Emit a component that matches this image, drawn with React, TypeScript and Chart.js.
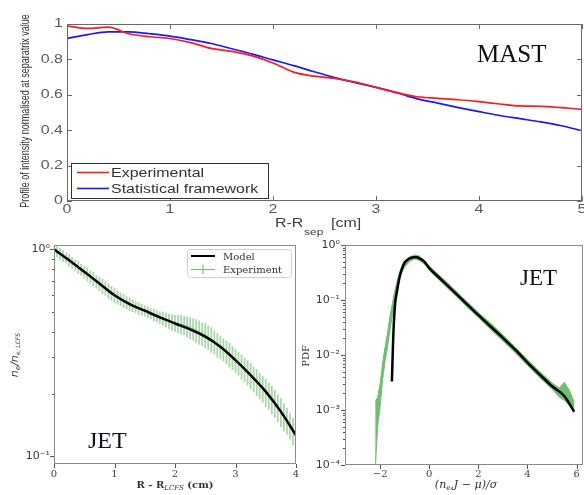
import React, { useEffect, useRef } from "react";
import { Chart, registerables } from "chart.js";
Chart.register(...registerables);

// ---------------- MAST profile (top panel) ----------------
const mastR = [0, 0.2, 0.4, 0.6, 0.8, 1.0, 1.2, 1.4, 1.6, 1.8, 2.0, 2.2, 2.4, 2.6, 2.8, 3.0, 3.2, 3.4, 3.6, 3.8, 4.0, 4.2, 4.4, 4.6, 4.8, 5.0];
const mastExperimental = [0.99, 0.975, 0.982, 0.945, 0.928, 0.918, 0.895, 0.862, 0.845, 0.82, 0.78, 0.728, 0.705, 0.693, 0.672, 0.642, 0.612, 0.589, 0.58, 0.572, 0.561, 0.548, 0.537, 0.535, 0.527, 0.518];
const mastStatistical = [0.919, 0.94, 0.955, 0.955, 0.945, 0.932, 0.912, 0.89, 0.86, 0.83, 0.797, 0.765, 0.73, 0.697, 0.668, 0.642, 0.612, 0.577, 0.553, 0.528, 0.505, 0.483, 0.465, 0.447, 0.425, 0.397];
const mastXTicks = [0, 1, 2, 3, 4, 5];
const mastYTicks = [0, 0.2, 0.4, 0.6, 0.8, 1];

// ---------------- JET profile (bottom-left panel) ----------------
const jetModelR = [0, 0.25, 0.5, 0.75, 1, 1.25, 1.5, 1.75, 2, 2.25, 2.5, 2.75, 3, 3.25, 3.5, 3.75, 4];
const jetModelN = [1.0, 0.887, 0.78, 0.684, 0.6, 0.544, 0.505, 0.469, 0.438, 0.41, 0.378, 0.338, 0.291, 0.246, 0.205, 0.164, 0.126];
const jetExpR = [
  0, 0.05, 0.1, 0.15, 0.2, 0.25, 0.3, 0.35, 0.4, 0.45,
  0.5, 0.55, 0.6, 0.65, 0.7, 0.75, 0.8, 0.85, 0.9, 0.95,
  1.0, 1.05, 1.1, 1.15, 1.2, 1.25, 1.3, 1.35, 1.4, 1.45,
  1.5, 1.55, 1.6, 1.65, 1.7, 1.75, 1.8, 1.85, 1.9, 1.95,
  2.0, 2.05, 2.1, 2.15, 2.2, 2.25, 2.3, 2.35, 2.4, 2.45,
  2.5, 2.55, 2.6, 2.65, 2.7, 2.75, 2.8, 2.85, 2.9, 2.95,
  3.0, 3.05, 3.1, 3.15, 3.2, 3.25, 3.3, 3.35, 3.4, 3.45,
  3.5, 3.55, 3.6, 3.65, 3.7, 3.75, 3.8, 3.85, 3.9, 3.95, 4.0,
];
const jetExpN = [
  1.0, 0.975, 0.952, 0.93, 0.908, 0.885, 0.862, 0.84, 0.82, 0.8,
  0.778, 0.758, 0.738, 0.72, 0.7, 0.683, 0.665, 0.648, 0.63, 0.615,
  0.6, 0.588, 0.576, 0.565, 0.554, 0.544, 0.535, 0.527, 0.519, 0.512,
  0.505, 0.497, 0.49, 0.483, 0.476, 0.469, 0.463, 0.457, 0.45, 0.444,
  0.44, 0.437, 0.435, 0.43, 0.425, 0.419, 0.413, 0.406, 0.399, 0.392,
  0.385, 0.377, 0.368, 0.357, 0.347, 0.338, 0.329, 0.32, 0.31, 0.3,
  0.291, 0.282, 0.273, 0.264, 0.255, 0.246, 0.237, 0.229, 0.221, 0.213,
  0.205, 0.197, 0.189, 0.181, 0.172, 0.164, 0.156, 0.149, 0.141, 0.133, 0.126,
];
const jetExpErr = [
  0.07, 0.06, 0.07, 0.065, 0.06, 0.07, 0.065, 0.06, 0.07, 0.065,
  0.07, 0.075, 0.07, 0.08, 0.075, 0.08, 0.085, 0.08, 0.085, 0.08,
  0.085, 0.08, 0.075, 0.08, 0.07, 0.075, 0.07, 0.065, 0.07, 0.065,
  0.06, 0.065, 0.06, 0.07, 0.065, 0.07, 0.075, 0.08, 0.085, 0.09,
  0.095, 0.1, 0.11, 0.105, 0.115, 0.12, 0.125, 0.13, 0.135, 0.13,
  0.14, 0.135, 0.14, 0.13, 0.135, 0.13, 0.125, 0.13, 0.135, 0.13,
  0.135, 0.13, 0.14, 0.135, 0.14, 0.145, 0.14, 0.15, 0.145, 0.15,
  0.155, 0.15, 0.16, 0.155, 0.15, 0.16, 0.155, 0.15, 0.145, 0.15, 0.14,
];
const jetXTicks = [0, 1, 2, 3, 4];
const jetYTicks = [0.1, 1];

// ---------------- JET PDF (bottom-right panel) ----------------
const pdfX = [-2.2, -2.1, -2.0, -1.9, -1.8, -1.7, -1.6, -1.5, -1.4, -1.3, -1.2, -1.1, -1.0, -0.8, -0.6, -0.4, -0.2, 0, 0.5, 1, 1.5, 2, 2.5, 3, 3.5, 4, 4.5, 5, 5.3, 5.5, 5.7, 5.9];
const pdfExpHigh = [0.0014, 0.0017, 0.003, 0.007, 0.014, 0.025, 0.05, 0.087, 0.15, 0.23, 0.33, 0.43, 0.52, 0.6, 0.66, 0.63, 0.52, 0.415, 0.26, 0.16, 0.097, 0.059, 0.038, 0.023, 0.014, 0.0082, 0.005, 0.0031, 0.0025, 0.0032, 0.0023, 0.0014];
const pdfExpLow = [0.00008, 0.0005, 0.00115, 0.0035, 0.0076, 0.014, 0.028, 0.053, 0.093, 0.15, 0.25, 0.33, 0.4, 0.5, 0.56, 0.52, 0.45, 0.35, 0.21, 0.128, 0.078, 0.048, 0.029, 0.018, 0.011, 0.0065, 0.0039, 0.0024, 0.0017, 0.0015, 0.0012, 0.0009];
const pdfModelX = [-1.52, -1.47, -1.4, -1.3, -1.2, -1.1, -1.0, -0.9, -0.8, -0.6, -0.5, -0.4, -0.2, 0, 0.5, 1, 1.5, 2, 2.5, 3, 3.5, 4, 4.5, 5, 5.5, 5.9];
const pdfModel = [0.0033, 0.019, 0.076, 0.155, 0.27, 0.38, 0.48, 0.53, 0.57, 0.6, 0.6, 0.57, 0.5, 0.38, 0.233, 0.142, 0.087, 0.053, 0.033, 0.0205, 0.0125, 0.0073, 0.0044, 0.0027, 0.0018, 0.00093];
const pdfXTicks = [-2, 0, 2, 4, 6];
const pdfYTicks = [0.0001, 0.001, 0.01, 0.1, 1];

// ---------------- helpers ----------------
const GREEN = "rgb(112,190,112)";
const SUP: Record<string, string> = { "0": "⁰", "1": "¹", "2": "²", "3": "³", "4": "⁴", "-": "⁻" };
const logLabel = (v: number) => {
  const e = Math.round(Math.log10(v));
  return "10" + String(e).split("").map((c) => SUP[c]).join("");
};
const fixW = (w: number) => (s: any) => { s.width = w; s.paddingTop = 0; s.paddingBottom = 0; };
const fixH = (h: number) => (s: any) => { s.height = h; s.paddingLeft = 0; s.paddingRight = 0; };
const setTicks = (vals: number[]) => (s: any) => { s.ticks = vals.map((v) => ({ value: v })); };

type Part = { t: string; f: string; dy?: number };
function drawRich(ctx: CanvasRenderingContext2D, parts: Part[], x: number, y: number, align: "center" | "left") {
  let total = 0;
  const ws = parts.map((p) => { ctx.font = p.f; const w = ctx.measureText(p.t).width; total += w; return w; });
  let cx = align === "center" ? x - total / 2 : x;
  ctx.textAlign = "left";
  parts.forEach((p, i) => { ctx.font = p.f; ctx.fillText(p.t, cx, y + (p.dy || 0)); cx += ws[i]; });
}
const SX = 1.33;
function sText(ctx: CanvasRenderingContext2D, t: string, x: number, y: number, align: CanvasTextAlign) {
  ctx.save(); ctx.translate(x, y); ctx.scale(SX, 1); ctx.textAlign = align; ctx.fillText(t, 0, 0); ctx.restore();
}

// ---------------- plugins ----------------
const mastDecor = {
  id: "mastDecor",
  afterDraw(chart: any) {
    const { ctx, chartArea: a, scales } = chart;
    const xs = scales.x, ys = scales.y;
    ctx.save();
    ctx.strokeStyle = "#6a6a6a"; ctx.lineWidth = 1;
    ctx.strokeRect(a.left + 0.5, a.top + 0.5, a.right - a.left - 1, a.bottom - a.top - 1);
    ctx.beginPath();
    mastXTicks.forEach((v) => {
      const px = Math.round(xs.getPixelForValue(v)) + 0.5;
      ctx.moveTo(px, a.bottom); ctx.lineTo(px, a.bottom - 5);
      ctx.moveTo(px, a.top); ctx.lineTo(px, a.top + 5);
    });
    mastYTicks.forEach((v) => {
      const py = Math.round(ys.getPixelForValue(v)) + 0.5;
      ctx.moveTo(a.left, py); ctx.lineTo(a.left + 5, py);
      ctx.moveTo(a.right, py); ctx.lineTo(a.right - 5, py);
    });
    ctx.stroke();
    // tick labels
    ctx.fillStyle = "#5a5a5a"; ctx.font = "12px 'Liberation Sans'"; ctx.textBaseline = "middle";
    mastXTicks.forEach((v) => sText(ctx, String(v), xs.getPixelForValue(v), a.bottom + 9, "center"));
    mastYTicks.forEach((v) => sText(ctx, v === 0 || v === 1 ? String(v) : v.toFixed(1), a.left - 4, ys.getPixelForValue(v), "right"));
    // legend
    ctx.textBaseline = "alphabetic";
    ctx.fillStyle = "#ffffff"; ctx.fillRect(71.5, 163.5, 197, 35);
    ctx.strokeStyle = "#333"; ctx.strokeRect(71.5, 163.5, 197, 35);
    const ds = chart.data.datasets;
    [172.5, 188.5].forEach((y, i) => {
      ctx.strokeStyle = ds[i].borderColor; ctx.lineWidth = 1.6;
      ctx.beginPath(); ctx.moveTo(77, y); ctx.lineTo(109, y); ctx.stroke();
      ctx.fillStyle = "#333"; ctx.font = "12px 'Liberation Sans'";
      sText(ctx, ds[i].label, 111, y + 4.8, "left");
    });
    // axis titles
    ctx.fillStyle = "#404040";
    ctx.font = "12px 'Liberation Sans'";
    sText(ctx, "R-R", 275, 227, "left");
    sText(ctx, "[cm]", 331, 227, "left");
    ctx.font = "9px 'Liberation Sans'";
    sText(ctx, "sep", 304, 235, "left");
    ctx.save();
    ctx.translate(26, 111); ctx.scale(SX, 1); ctx.rotate(-Math.PI / 2);
    ctx.font = "9px 'Liberation Sans'"; ctx.textAlign = "center"; ctx.textBaseline = "middle";
    ctx.fillStyle = "#333";
    ctx.fillText("Profile of intensity normalised at separatrix value", 0, 0, 212);
    ctx.restore();
    // MAST label
    ctx.fillStyle = "#111"; ctx.font = "25px 'Liberation Serif'"; ctx.textAlign = "left";
    ctx.fillText("MAST", 477, 62);
    ctx.restore();
  },
};

function logTicksMarks(ctx: any, a: any, xs: any, ys: any, xt: number[], yt: number[], minor: number[]) {
  ctx.strokeStyle = "#555"; ctx.lineWidth = 1;
  ctx.beginPath();
  xt.forEach((v) => { const px = Math.round(xs.getPixelForValue(v)) + 0.5; ctx.moveTo(px, a.bottom); ctx.lineTo(px, a.bottom + 4); });
  yt.forEach((v) => { const py = Math.round(ys.getPixelForValue(v)) + 0.5; ctx.moveTo(a.left, py); ctx.lineTo(a.left - 4, py); });
  minor.forEach((v) => { const py = Math.round(ys.getPixelForValue(v)) + 0.5; ctx.moveTo(a.left, py); ctx.lineTo(a.left - 2, py); });
  ctx.stroke();
  ctx.strokeStyle = "#8a8a8a";
  ctx.strokeRect(a.left + 0.5, a.top + 0.5, a.right - a.left - 1, a.bottom - a.top - 1);
}

const jetProfileDecor = {
  id: "jetProfileDecor",
  beforeDatasetsDraw(chart: any) {
    const { ctx, chartArea: a, scales } = chart;
    ctx.save();
    ctx.beginPath(); ctx.rect(a.left, a.top, a.right - a.left, a.bottom - a.top); ctx.clip();
    ctx.strokeStyle = "rgba(100,182,100,0.55)"; ctx.lineWidth = 1.8;
    ctx.beginPath();
    jetExpR.forEach((r, i) => {
      const px = scales.x.getPixelForValue(r);
      ctx.moveTo(px, scales.y.getPixelForValue(jetExpN[i] * (1 - jetExpErr[i])));
      ctx.lineTo(px, scales.y.getPixelForValue(jetExpN[i] * (1 + jetExpErr[i])));
    });
    ctx.stroke();
    ctx.restore();
  },
  afterDraw(chart: any) {
    const { ctx, chartArea: a, scales } = chart;
    const minor = [0.2, 0.3, 0.4, 0.5, 0.6, 0.7, 0.8, 0.9];
    ctx.save();
    logTicksMarks(ctx, a, scales.x, scales.y, jetXTicks, jetYTicks, minor);
    ctx.translate(0, -235);
    // legend
    ctx.beginPath();
    if (ctx.roundRect) ctx.roundRect(187.5, 249.5, 104, 28, 3); else ctx.rect(187.5, 249.5, 104, 28);
    ctx.fillStyle = "rgba(255,255,255,0.85)"; ctx.fill();
    ctx.strokeStyle = "#d0d0d0"; ctx.lineWidth = 1; ctx.stroke();
    ctx.strokeStyle = "#000"; ctx.lineWidth = 2;
    ctx.beginPath(); ctx.moveTo(191, 256); ctx.lineTo(215, 256); ctx.stroke();
    ctx.strokeStyle = GREEN; ctx.lineWidth = 1.2;
    ctx.beginPath(); ctx.moveTo(191, 269.5); ctx.lineTo(215, 269.5); ctx.moveTo(203, 265); ctx.lineTo(203, 274); ctx.stroke();
    const ds = chart.data.datasets;
    ctx.fillStyle = "#333"; ctx.font = "10px 'DejaVu Serif'"; ctx.textAlign = "left"; ctx.textBaseline = "alphabetic";
    ctx.fillText(ds[0].label, 223, 259.5);
    ctx.fillText(ds[1].label, 223, 273);
    // JET
    ctx.fillStyle = "#10101e"; ctx.font = "24px 'Liberation Serif'";
    ctx.fillText("JET", 88, 448);
    // x title
    ctx.fillStyle = "#333";
    drawRich(ctx, [
      { t: "R - R", f: "bold 10px 'DejaVu Serif'" },
      { t: "LCFS", f: "italic 7px 'DejaVu Serif'", dy: 2 },
      { t: " (cm)", f: "bold 10px 'DejaVu Serif'" },
    ], 175, 488, "center");
    // y title
    ctx.save();
    ctx.translate(18, 355); ctx.rotate(-Math.PI / 2);
    drawRich(ctx, [
      { t: "n", f: "italic 11px 'DejaVu Sans'" },
      { t: "e", f: "italic 7px 'DejaVu Sans'", dy: 2 },
      { t: "/n", f: "italic 11px 'DejaVu Sans'" },
      { t: "e, LCFS", f: "italic 6px 'DejaVu Sans'", dy: 2 },
    ], 0, 0, "center");
    ctx.restore();
    ctx.restore();
  },
};

const pdfDecor = {
  id: "pdfDecor",
  afterDraw(chart: any) {
    const { ctx, chartArea: a, scales } = chart;
    const minor: number[] = [];
    [0.0001, 0.001, 0.01, 0.1].forEach((d) => [2, 3, 4, 5, 6, 7, 8, 9].forEach((k) => minor.push(d * k)));
    ctx.save();
    logTicksMarks(ctx, a, scales.x, scales.y, pdfXTicks, pdfYTicks, minor);
    ctx.translate(-290, -235);
    ctx.fillStyle = "#10101e"; ctx.font = "23px 'Liberation Serif'"; ctx.textAlign = "left"; ctx.textBaseline = "alphabetic";
    ctx.fillText("JET", 520, 285);
    ctx.fillStyle = "#333";
    drawRich(ctx, [
      { t: "(n", f: "italic 11px 'DejaVu Serif'" },
      { t: "e", f: "italic 7px 'DejaVu Serif'", dy: 2 },
      { t: ",J − μ)/σ", f: "italic 11px 'DejaVu Serif'" },
    ], 466, 488, "center");
    ctx.save();
    ctx.translate(309, 356); ctx.rotate(-Math.PI / 2);
    ctx.font = "10px 'DejaVu Serif'"; ctx.textAlign = "center"; ctx.textBaseline = "alphabetic";
    ctx.fillText("PDF", 0, 0);
    ctx.restore();
    ctx.restore();
  },
};

// ---------------- configs ----------------
const noGrid = { display: false, drawTicks: false };
const noBorder = { display: false };

const mastConfig = (): any => ({
  type: "line",
  data: {
    datasets: [
      { label: "Experimental", data: mastR.map((x, i) => ({ x, y: mastExperimental[i] })), borderColor: "rgb(255,25,25)", borderWidth: 1.7, pointRadius: 0, cubicInterpolationMode: "monotone" },
      { label: "Statistical framework", data: mastR.map((x, i) => ({ x, y: mastStatistical[i] })), borderColor: "rgb(25,25,255)", borderWidth: 1.7, pointRadius: 0, cubicInterpolationMode: "monotone" },
    ],
  },
  options: {
    responsive: false, animation: false, devicePixelRatio: 1,
    layout: { padding: { top: 24, right: 2, left: 0, bottom: 0 } },
    plugins: { legend: { display: false }, tooltip: { enabled: false } },
    scales: {
      x: { type: "linear", min: 0, max: 5, afterBuildTicks: setTicks(mastXTicks), ticks: { display: false }, grid: noGrid, border: noBorder, afterFit: fixH(39) },
      y: { type: "linear", min: 0, max: 1, afterBuildTicks: setTicks(mastYTicks), ticks: { display: false }, grid: noGrid, border: noBorder, afterFit: fixW(67) },
    },
  },
  plugins: [mastDecor],
});

const jetProfileConfig = (): any => ({
  type: "line",
  data: {
    datasets: [
      { label: "Model", data: jetModelR.map((x, i) => ({ x, y: jetModelN[i] })), borderColor: "#000", borderWidth: 2.5, pointRadius: 0, cubicInterpolationMode: "monotone", order: 0 },
      { label: "Experiment", data: jetExpR.map((x, i) => ({ x, y: jetExpN[i] })), borderColor: GREEN, borderWidth: 1, pointRadius: 0, order: 1 },
    ],
  },
  options: {
    responsive: false, animation: false, devicePixelRatio: 1,
    layout: { padding: { top: 10, right: 4, left: 0, bottom: 0 } },
    plugins: { legend: { display: false }, tooltip: { enabled: false } },
    scales: {
      x: {
        type: "linear", min: 0, max: 4, afterBuildTicks: setTicks(jetXTicks),
        ticks: { font: { family: "'DejaVu Serif'", size: 10 }, color: "#444", padding: 4, maxRotation: 0, callback: (v: number) => String(v) },
        grid: noGrid, border: noBorder, afterFit: fixH(31),
      },
      y: {
        type: "logarithmic", min: 0.0915, max: 1.05, afterBuildTicks: setTicks(jetYTicks),
        ticks: { font: { family: "'DejaVu Sans'", size: 11 }, color: "#3a3a3a", padding: 4, callback: (v: number) => logLabel(v) },
        grid: noGrid, border: noBorder, afterFit: fixW(54),
      },
    },
  },
  plugins: [jetProfileDecor],
});

const pdfConfig = (): any => ({
  type: "line",
  data: {
    datasets: [
      { label: "Experiment upper", data: pdfX.map((x, i) => ({ x, y: pdfExpHigh[i] })), borderColor: GREEN, backgroundColor: GREEN, borderWidth: 1, pointRadius: 0, fill: "+1", order: 2 },
      { label: "Experiment lower", data: pdfX.map((x, i) => ({ x, y: pdfExpLow[i] })), borderColor: GREEN, borderWidth: 1, pointRadius: 0, fill: false, order: 1 },
      { label: "Model", data: pdfModelX.map((x, i) => ({ x, y: pdfModel[i] })), borderColor: "#000", borderWidth: 2.5, pointRadius: 0, cubicInterpolationMode: "monotone", fill: false, order: 0 },
    ],
  },
  options: {
    responsive: false, animation: false, devicePixelRatio: 1,
    layout: { padding: { top: 10, right: 1, left: 0, bottom: 0 } },
    plugins: { legend: { display: false }, tooltip: { enabled: false } },
    scales: {
      x: {
        type: "linear", min: -3.43, max: 6.26, afterBuildTicks: setTicks(pdfXTicks),
        ticks: { font: { family: "'DejaVu Serif'", size: 10 }, color: "#444", padding: 3, maxRotation: 0, callback: (v: number) => (v < 0 ? "−" + Math.abs(v) : String(v)) },
        grid: noGrid, border: noBorder, afterFit: fixH(30),
      },
      y: {
        type: "logarithmic", min: 0.0001, max: 1, afterBuildTicks: setTicks(pdfYTicks),
        ticks: { font: { family: "'DejaVu Sans'", size: 11 }, color: "#3a3a3a", padding: 5, callback: (v: number) => logLabel(v) },
        grid: noGrid, border: noBorder, afterFit: fixW(55),
      },
    },
  },
  plugins: [pdfDecor],
});

function ChartCanvas({ x, y, w, h, make }: { x: number; y: number; w: number; h: number; make: () => any }) {
  const ref = useRef<HTMLCanvasElement>(null);
  useEffect(() => {
    const chart = new Chart(ref.current as HTMLCanvasElement, make());
    return () => chart.destroy();
  }, []);
  return <canvas ref={ref} width={w} height={h} style={{ position: "absolute", left: x, top: y, width: w, height: h }} />;
}

export default function App() {
  return (
    <div style={{ position: "fixed", left: 0, top: 0, width: 584, height: 495, background: "#fff", overflow: "hidden" }}>
      <ChartCanvas x={0} y={0} w={584} h={240} make={mastConfig} />
      <ChartCanvas x={0} y={235} w={300} h={260} make={jetProfileConfig} />
      <ChartCanvas x={290} y={235} w={294} h={260} make={pdfConfig} />
    </div>
  );
}
